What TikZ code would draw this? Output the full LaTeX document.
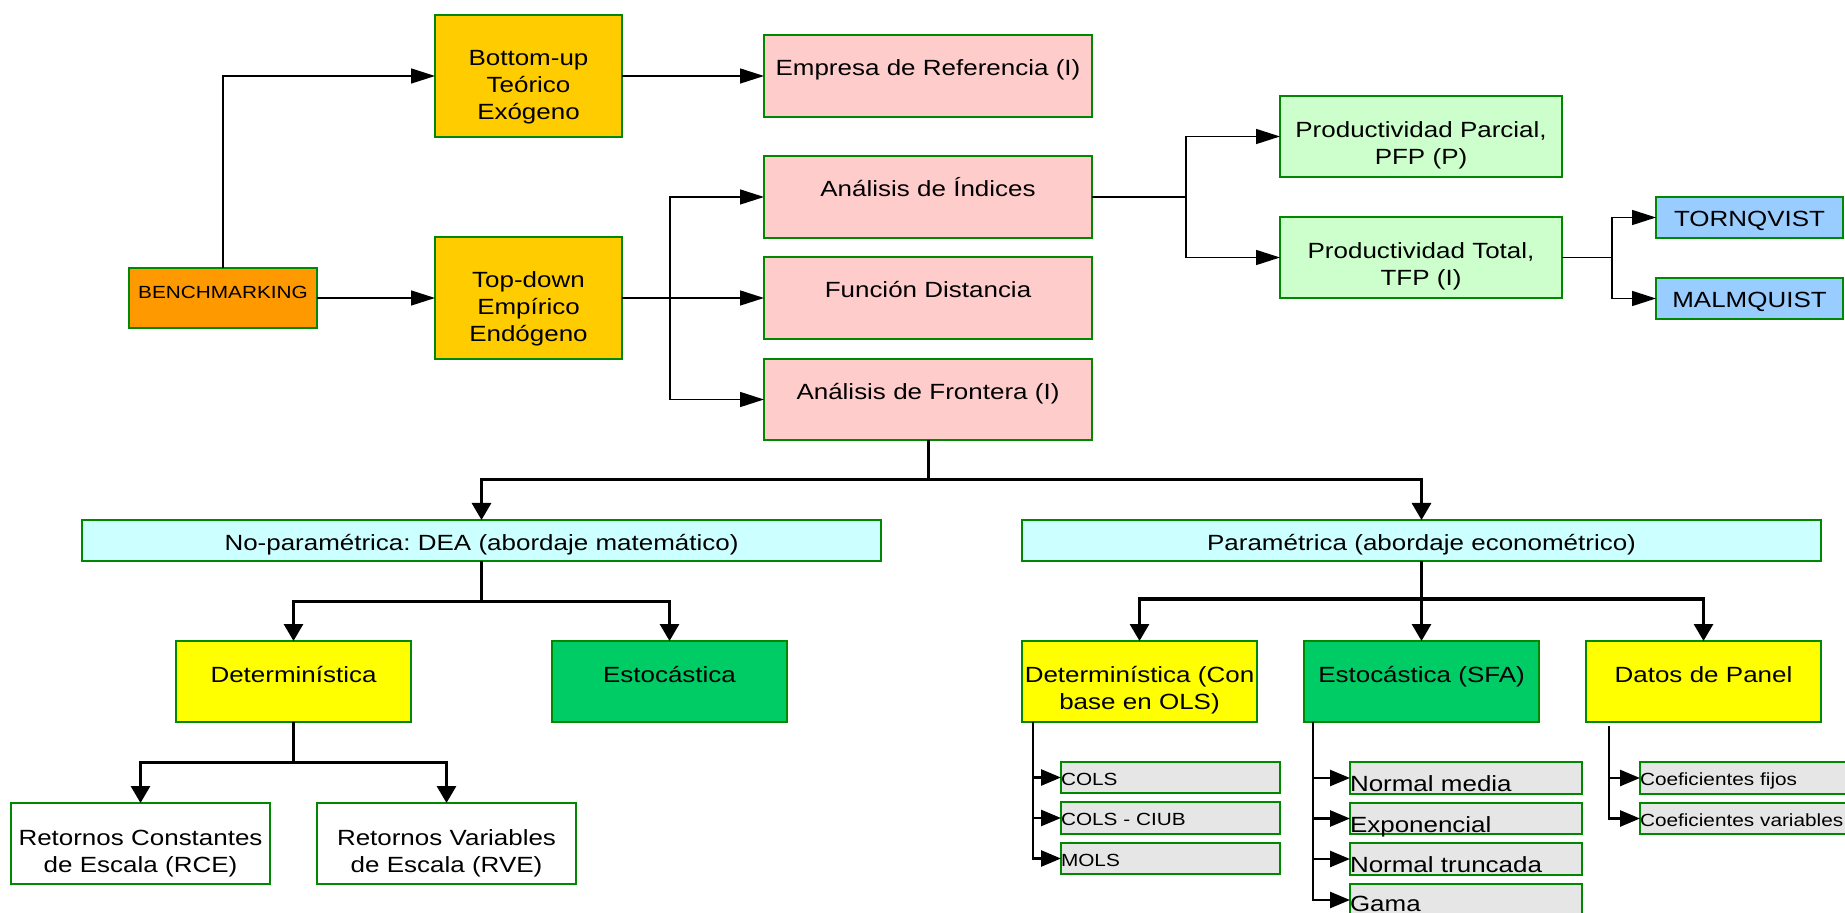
\documentclass[tikz,border=0pt]{standalone}
\usepackage{fontspec}
\setmainfont{Liberation Sans}[FakeStretch=1.18]
\usetikzlibrary{arrows.meta}
\frenchspacing

% Colours of the boxes
\definecolor{benchorange}{RGB}{255,153,0}
\definecolor{approachgold}{RGB}{255,204,0}
\definecolor{methodpink}{RGB}{255,204,204}
\definecolor{prodmint}{RGB}{204,255,204}
\definecolor{indexsky}{RGB}{153,204,255}
\definecolor{familyaqua}{RGB}{204,255,255}
\definecolor{detlemon}{RGB}{255,255,0}
\definecolor{stochjade}{RGB}{0,204,102}
\definecolor{leafgrey}{RGB}{230,230,230}
\definecolor{boxedge}{RGB}{0,136,0}

\newcommand\bigtxt{\fontsize{11}{13.5}\selectfont}
\newcommand\smalltxt{\fontsize{8.8}{11}\selectfont}

\begin{document}
\begin{tikzpicture}[x=0.5pt, y=-0.5pt,
    box/.style n args={3}{draw=boxedge, line width=1pt, anchor=north west,
        inner sep=0pt, outer sep=0pt, align=center, font=\bigtxt,
        text width=#1*0.5pt, minimum height=#2*0.5pt,
        text height=#3*0.5pt, text depth=(#2-#3)*0.5pt},
    leaf/.style={align=left},
    thinarrow/.style={line width=0.75pt, -{Triangle[length=12pt,width=7.5pt]}},
    thickarrow/.style={line width=1.5pt, -{Triangle[length=8.5pt,width=9.5pt]}},
    leafarrow/.style={line width=1.3pt, -{Triangle[length=10pt,width=8pt]}}]

    % Fix the size of the picture
    \useasboundingbox (0,0) rectangle (1845,913);

    % Root and the two approaches
    \node[box={188}{60}{31}, fill=benchorange, font=\smalltxt] (bench) at (129,268) {BENCHMARKING};
    \node[box={187}{122}{51}, fill=approachgold] (bottomup) at (435,15) {Bottom-up\\Teórico\\Exógeno};
    \node[box={187}{122}{51}, fill=approachgold] (topdown) at (435,237) {Top-down\\Empírico\\Endógeno};

    % Methods
    \node[box={328}{82}{41}, fill=methodpink] (empresa) at (764,35) {Empresa de Referencia (I)};
    \node[box={328}{82}{41}, fill=methodpink] (indices) at (764,156) {Análisis de Índices};
    \node[box={328}{82}{41}, fill=methodpink] (funcion) at (764,257) {Función Distancia};
    \node[box={328}{81}{41}, fill=methodpink] (frontera) at (764,359) {Análisis de Frontera (I)};

    % Productivity indices
    \node[box={282}{81}{42}, fill=prodmint] (parcial) at (1280,96) {Productividad Parcial,\\PFP (P)};
    \node[box={282}{81}{42}, fill=prodmint] (total) at (1280,217) {Productividad Total,\\TFP (I)};
    \node[box={187}{41}{30}, fill=indexsky] (tornqvist) at (1656,197) {TORNQVIST};
    \node[box={187}{41}{30}, fill=indexsky] (malmquist) at (1656,278) {MALMQUIST};

    % Frontier families
    \node[box={799}{41}{31}, fill=familyaqua] (noparam) at (82,520) {No-paramétrica: DEA (abordaje matemático)};
    \node[box={799}{41}{31}, fill=familyaqua] (param) at (1022,520) {Paramétrica (abordaje econométrico)};

    % Non-parametric branch
    \node[box={235}{81}{41}, fill=detlemon] (detdea) at (176,641) {Determinística};
    \node[box={235}{81}{41}, fill=stochjade] (estdea) at (552,641) {Estocástica};
    \node[box={259}{81}{42}, fill=white] (rce) at (11,803) {Retornos Constantes\\de Escala (RCE)};
    \node[box={259}{81}{42}, fill=white] (rve) at (317,803) {Retornos Variables\\de Escala (RVE)};

    % Parametric branch
    \node[box={235}{81}{41}, fill=detlemon] (detols) at (1022,641) {Determinística (Con\\base en OLS)};
    \node[box={235}{81}{41}, fill=stochjade] (sfa) at (1304,641) {Estocástica (SFA)};
    \node[box={235}{81}{41}, fill=detlemon] (panel) at (1586,641) {Datos de Panel};

    % Leaves of the parametric branch
    \node[box={219}{31}{23}, leaf, fill=leafgrey, font=\smalltxt] (cols) at (1061,762) {COLS};
    \node[box={219}{32}{23}, leaf, fill=leafgrey, font=\smalltxt] (colsciub) at (1061,802) {COLS - CIUB};
    \node[box={219}{31}{23}, leaf, fill=leafgrey, font=\smalltxt] (mols) at (1061,843) {MOLS};
    \node[box={232}{32}{29}, leaf, fill=leafgrey] (normalmedia) at (1350,762) {Normal media};
    \node[box={232}{31}{29}, leaf, fill=leafgrey] (exponencial) at (1350,803) {Exponencial};
    \node[box={232}{32}{29}, leaf, fill=leafgrey] (truncada) at (1350,843) {Normal truncada};
    \node[box={232}{32}{27}, leaf, fill=leafgrey] (gama) at (1350,884) {Gama};
    \node[box={220}{32}{23}, leaf, fill=leafgrey, font=\smalltxt] (fijos) at (1640,762) {Coeficientes fijos};
    \node[box={220}{31}{23}, leaf, fill=leafgrey, font=\smalltxt] (variables) at (1640,803) {Coeficientes variables};

    % Branch points of the connectors
    \coordinate (splittop) at (670,298);
    \coordinate (splitind) at (1186,197);
    \coordinate (splittfp) at (1612,257.5);
    \coordinate (splitfront) at (928,480);
    \coordinate (splitdea) at (481.5,601);
    \coordinate (splitdet) at (293.5,762);
    \coordinate (splitpar) at (1421.5,599);
    \coordinate (trunkols) at (1033,722);
    \coordinate (trunksfa) at (1313,722);
    \coordinate (trunkpanel) at (1609,726);

    % Upper connectors
    \draw[thinarrow] (bench.north) |- (bottomup.west);
    \draw[thinarrow] (bench.east) -- (topdown.west);
    \draw[thinarrow] (bottomup.east) -- (empresa.west);
    \draw[thinarrow] (topdown.east) -- (funcion.west);
    \draw[thinarrow] (splittop) |- (indices.west);
    \draw[thinarrow] (splittop) |- (frontera.west);
    \draw[line width=0.75pt] (indices.east) -- (splitind);
    \draw[thinarrow] (splitind) |- (parcial.west);
    \draw[thinarrow] (splitind) |- (total.west);
    \draw[line width=0.75pt] (total.east) -- (splittfp);
    \draw[thinarrow] (splittfp) |- (tornqvist.west);
    \draw[thinarrow] (splittfp) |- (malmquist.west);

    % Lower connectors
    \draw[line width=1.5pt] (frontera.south) -- (splitfront);
    \draw[thickarrow] (splitfront) -| (noparam.north);
    \draw[thickarrow] (splitfront) -| (param.north);
    \draw[line width=1.5pt] (noparam.south) -- (splitdea);
    \draw[thickarrow] (splitdea) -| (detdea.north);
    \draw[thickarrow] (splitdea) -| (estdea.north);
    \draw[line width=1.5pt] (detdea.south) -- (splitdet);
    \draw[thickarrow] (splitdet) -| (rce.north);
    \draw[thickarrow] (splitdet) -| (rve.north);
    \draw[line width=1.5pt] (param.south) -- (splitpar);
    \draw[thickarrow] (splitpar) -| (detols.north);
    \draw[thickarrow] (splitpar) -- (sfa.north);
    \draw[thickarrow] (splitpar) -| (panel.north);

    % Leaf connectors
    \draw[leafarrow] (trunkols) |- (cols.west);
    \draw[leafarrow] (trunkols) |- (colsciub.west);
    \draw[leafarrow] (trunkols) |- (mols.west);
    \draw[leafarrow] (trunksfa) |- (normalmedia.west);
    \draw[leafarrow] (trunksfa) |- (exponencial.west);
    \draw[leafarrow] (trunksfa) |- (truncada.west);
    \draw[leafarrow] (trunksfa) |- (gama.west);
    \draw[leafarrow] (trunkpanel) |- (fijos.west);
    \draw[leafarrow] (trunkpanel) |- (variables.west);

\end{tikzpicture}
\end{document}
